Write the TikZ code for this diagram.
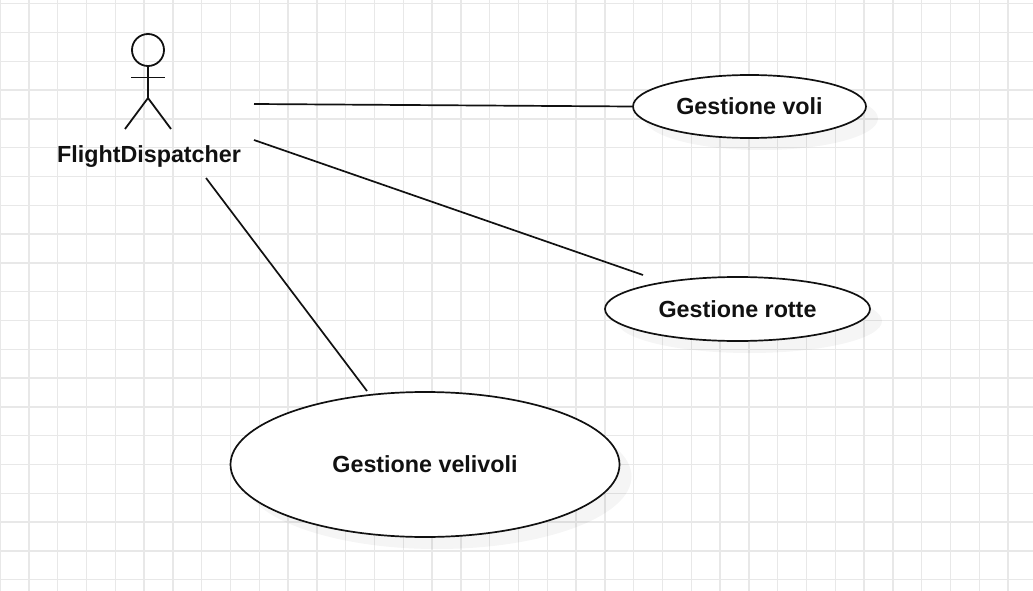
\documentclass[tikz,border=0pt]{standalone}
\usepackage{fontspec}
\setmainfont{Liberation Sans}
\usetikzlibrary{shapes.geometric,shadows}
\tikzstyle{grid-line}=[draw={GridGray}, line width=1.5pt]
\tikzstyle{actor-line}=[draw={UmlBlack}, line width=1.8pt]
\tikzstyle{assoc-line}=[draw={UmlBlack}, line width=1.7pt]
\tikzstyle{usecase}=[ellipse, draw={UmlBlack}, line width=1.7pt, fill=white, inner sep=0pt, text={UmlBlack}, font=\fontsize{23.3}{26}\selectfont\bfseries, drop shadow={shadow xshift=12pt, shadow yshift=-12pt, fill=black, opacity=0.04}]
\definecolor{GridGray}{HTML}{e8e8e8}
\definecolor{UmlBlack}{HTML}{111111}

\begin{document}
\begin{tikzpicture}[x=1pt, y=-1pt]
      \useasboundingbox (0,0) rectangle (1033,591);
      \fill[white] (0,0) rectangle (1033,591);

      % grid
      \foreach \k in {0,...,35} {
        \draw[grid-line] ({0.1+28.8*\k},0) -- ({0.1+28.8*\k},591);
      }
      \foreach \k in {0,...,20} {
        \draw[grid-line] (0,{3.7+28.8*\k}) -- (1033,{3.7+28.8*\k});
      }

      % actor
      \node (actor-head) at (148,50) [circle, actor-line, minimum size=32pt, inner sep=0pt] {};
      \coordinate (actor-hip) at (148,98);
      \coordinate (actor-armleft) at (131,77.5);
      \coordinate (actor-armright) at (165,77.5);
      \coordinate (actor-footleft) at (125,129);
      \coordinate (actor-footright) at (171,129);
      \draw[actor-line] (actor-head.south) -- (actor-hip);
      \draw[actor-line] (actor-armleft) -- (actor-armright);
      \draw[actor-line] (actor-footleft) -- (actor-hip) -- (actor-footright);
      \node (actor-name) at (149,157) [text={UmlBlack}, font=\fontsize{23.3}{26}\selectfont\bfseries] {FlightDispatcher};

      % use cases
      \node (case-voli) at (749.5,106.5) [usecase, minimum width=233pt, minimum height=63pt] {Gestione voli};
      \node (case-rotte) at (737.5,309) [usecase, minimum width=265pt, minimum height=64pt] {Gestione rotte};
      \node (case-velivoli) at (425,464.5) [usecase, minimum width=389pt, minimum height=145pt] {Gestione velivoli};

      % associations
      \coordinate (assoc-a) at (254,104);
      \coordinate (assoc-b) at (254,140);
      \coordinate (assoc-c) at (206,178);
      \coordinate (assoc-rotte) at (643,275);
      \coordinate (assoc-velivoli) at (367,391);
      \draw[assoc-line] (assoc-a) -- (case-voli.west);
      \draw[assoc-line] (assoc-b) -- (assoc-rotte);
      \draw[assoc-line] (assoc-c) -- (assoc-velivoli);
    \end{tikzpicture}
\end{document}
